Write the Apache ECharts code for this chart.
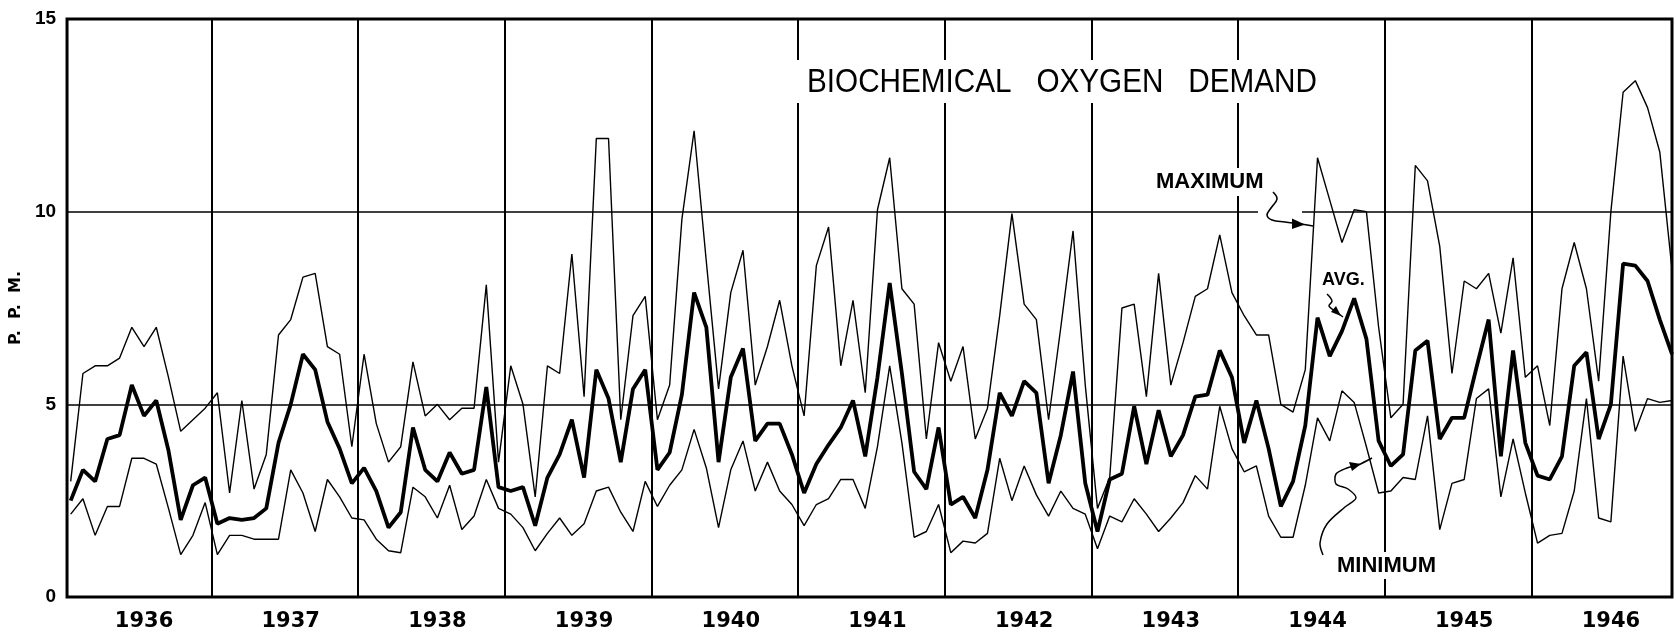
<!DOCTYPE html>
<html>
<head>
<meta charset="utf-8">
<script src="https://cdn.jsdelivr.net/npm/echarts@6/dist/echarts.min.js"></script>
<style>
  html, body { margin: 0; padding: 0; background: #fff; }
  #chart { width: 1676px; height: 635px; }
</style>
</head>
<body>
<div id="chart"></div>
<script>
// Monthly biochemical oxygen demand, p.p.m., January 1936 – December 1946
const years = [1936, 1937, 1938, 1939, 1940, 1941, 1942, 1943, 1944, 1945, 1946];
const yTicks = [0, 5, 10, 15];

const maximum = [
  3.0, 5.8, 6.0, 6.0, 6.2, 7.0, 6.5, 7.0, 5.7, 4.3, 4.6, 4.9,      // 1936
  5.3, 2.7, 5.1, 2.8, 3.7, 6.8, 7.2, 8.3, 8.4, 6.5, 6.3, 3.9,      // 1937
  6.3, 4.5, 3.5, 3.9, 6.1, 4.7, 5.0, 4.6, 4.9, 4.9, 8.1, 3.5,      // 1938
  6.0, 5.0, 2.6, 6.0, 5.8, 8.9, 5.2, 11.9, 11.9, 4.6, 7.3, 7.8,    // 1939
  4.6, 5.5, 9.8, 12.1, 8.7, 5.4, 7.9, 9.0, 5.5, 6.5, 7.7, 6.0,     // 1940
  4.7, 8.6, 9.6, 6.0, 7.7, 5.3, 10.05, 11.4, 8.0, 7.6, 4.1, 6.6,   // 1941
  5.6, 6.5, 4.1, 4.9, 7.3, 9.95, 7.6, 7.2, 4.6, 7.0, 9.5, 5.5,     // 1942
  2.3, 3.1, 7.5, 7.6, 5.2, 8.4, 5.5, 6.6, 7.8, 8.0, 9.4, 7.9,      // 1943
  7.3, 6.8, 6.8, 5.0, 4.8, 5.9, 11.4, 10.3, 9.2, 10.05, 10.0, 7.0, // 1944
  4.65, 5.0, 11.2, 10.8, 9.1, 5.8, 8.2, 8.0, 8.4, 6.85, 8.8, 5.7,  // 1945
  6.0, 4.45, 8.0, 9.2, 8.0, 5.6, 10.0, 13.1, 13.4, 12.7, 11.55, 8.5 // 1946
];

const average = [
  2.5, 3.3, 3.0, 4.1, 4.2, 5.5, 4.7, 5.1, 3.8, 2.0, 2.9, 3.1,        // 1936
  1.9, 2.05, 2.0, 2.05, 2.3, 4.0, 5.0, 6.3, 5.9, 4.55, 3.85, 2.95,   // 1937
  3.35, 2.75, 1.8, 2.2, 4.4, 3.3, 3.0, 3.75, 3.2, 3.3, 5.45, 2.85,   // 1938
  2.75, 2.85, 1.85, 3.1, 3.7, 4.6, 3.1, 5.9, 5.15, 3.5, 5.4, 5.9,    // 1939
  3.3, 3.75, 5.25, 7.9, 7.0, 3.5, 5.7, 6.45, 4.05, 4.5, 4.5, 3.7,    // 1940
  2.7, 3.45, 3.95, 4.4, 5.1, 3.65, 5.7, 8.15, 5.8, 3.25, 2.8, 4.4,   // 1941
  2.4, 2.6, 2.05, 3.3, 5.3, 4.7, 5.6, 5.3, 2.95, 4.2, 5.85, 2.95,    // 1942
  1.7, 3.05, 3.2, 4.95, 3.45, 4.85, 3.65, 4.2, 5.2, 5.25, 6.4, 5.7,  // 1943
  4.0, 5.1, 3.85, 2.35, 3.0, 4.45, 7.25, 6.25, 6.9, 7.75, 6.7, 4.05, // 1944
  3.4, 3.7, 6.4, 6.65, 4.1, 4.65, 4.65, 5.95, 7.2, 3.65, 6.4, 4.0,   // 1945
  3.15, 3.05, 3.65, 6.0, 6.35, 4.1, 5.0, 8.65, 8.6, 8.2, 7.2, 6.3    // 1946
];

const minimum = [
  2.15, 2.55, 1.6, 2.35, 2.35, 3.6, 3.6, 3.45, 2.3, 1.1, 1.6, 2.45,   // 1936
  1.1, 1.6, 1.6, 1.5, 1.5, 1.5, 3.3, 2.7, 1.7, 3.05, 2.6, 2.05,       // 1937
  2.0, 1.5, 1.2, 1.15, 2.85, 2.6, 2.05, 2.9, 1.75, 2.1, 3.05, 2.3,    // 1938
  2.15, 1.8, 1.2, 1.65, 2.05, 1.6, 1.9, 2.75, 2.85, 2.2, 1.7, 3.0,    // 1939
  2.35, 2.9, 3.3, 4.35, 3.35, 1.8, 3.3, 4.05, 2.75, 3.5, 2.75, 2.4,   // 1940
  1.85, 2.4, 2.55, 3.05, 3.05, 2.3, 3.9, 6.0, 4.0, 1.55, 1.7, 2.4,    // 1941
  1.15, 1.45, 1.4, 1.65, 3.6, 2.5, 3.4, 2.65, 2.1, 2.75, 2.3, 2.15,   // 1942
  1.25, 2.1, 1.95, 2.55, 2.15, 1.7, 2.05, 2.45, 3.15, 2.8, 4.95, 3.85, // 1943
  3.25, 3.4, 2.1, 1.55, 1.55, 2.9, 4.65, 4.05, 5.35, 5.05, 3.9, 2.7,  // 1944
  2.75, 3.1, 3.05, 4.7, 1.75, 2.95, 3.05, 5.15, 5.4, 2.6, 4.1, 2.7,   // 1945
  1.4, 1.6, 1.65, 2.75, 5.15, 2.05, 1.95, 6.25, 4.3, 5.15, 5.05, 5.1  // 1946
];

// month index -> [x, value]
const toPoints = arr => arr.map((v, i) => [i, v]);
// boundaries between years fall half a month before each January
const yearEdges = years.slice(1).map((y, k) => (k + 1) * 12 - 0.5);
// year captions sit near the middle of each twelve-month block
const yearMids = years.map((y, k) => k * 12 + 6);

const INK = '#000';

const chart = echarts.init(document.getElementById('chart'), null, { renderer: 'canvas' });

const thinLine = { color: INK, width: 1.4 };

chart.setOption({
  animation: false,
  backgroundColor: '#fff',
  grid: {
    left: 62, right: 4, top: 19, bottom: 38,
    show: true, borderColor: INK, borderWidth: 3, backgroundColor: 'transparent'
  },
  xAxis: {
    type: 'value',
    min: -0.3, max: 131,
    axisLine: { show: false },
    axisTick: { show: false },
    splitLine: { show: false },
    axisLabel: {
      customValues: yearMids,
      formatter: v => String(years[Math.round((v - 6) / 12)]),
      margin: 14,
      color: INK,
      fontFamily: 'DejaVu Sans',
      fontWeight: 'bold',
      fontSize: 21
    }
  },
  yAxis: {
    type: 'value',
    min: yTicks[0], max: yTicks[yTicks.length - 1], interval: 5,
    name: 'P.  P.  M.',
    nameLocation: 'middle',
    nameRotate: 90,
    nameGap: 40,
    nameTextStyle: { color: INK, fontFamily: 'DejaVu Sans', fontWeight: 'bold', fontSize: 16 },
    axisLine: { show: false },
    axisTick: { show: false },
    splitLine: { lineStyle: { color: INK, width: 1.5 } },
    axisLabel: {
      margin: 11,
      color: INK,
      fontFamily: 'Liberation Sans',
      fontWeight: 'bold',
      fontSize: 19
    }
  },
  series: [
    {
      name: 'Maximum',
      type: 'line',
      data: toPoints(maximum),
      symbol: 'none',
      lineStyle: thinLine,
      emphasis: { disabled: true },
      z: 3,
      markLine: {
        silent: true,
        symbol: ['none', 'none'],
        label: { show: false },
        lineStyle: { color: INK, width: 2, type: 'solid' },
        emphasis: { disabled: true },
        data: yearEdges.map(x => ({ xAxis: x }))
      }
    },
    {
      name: 'Average',
      type: 'line',
      data: toPoints(average),
      symbol: 'none',
      lineStyle: { color: INK, width: 3.8 },
      emphasis: { disabled: true },
      z: 4
    },
    {
      name: 'Minimum',
      type: 'line',
      data: toPoints(minimum),
      symbol: 'none',
      lineStyle: thinLine,
      emphasis: { disabled: true },
      z: 3
    }
  ],
  graphic: {
    elements: [
      // heading on a white panel; tall, slightly condensed lettering
      { type: 'rect', z: 10, shape: { x: 793, y: 60, width: 545, height: 43 }, style: { fill: '#fff' } },
      { type: 'text', z: 11, x: 807, y: 83, scaleX: 0.9,
        style: { text: 'BIOCHEMICAL   OXYGEN   DEMAND', font: '33px "Liberation Sans"', fill: INK, verticalAlign: 'middle' } },

      // MAXIMUM caption and its curled pointer
      { type: 'rect', z: 10, shape: { x: 1150, y: 168, width: 122, height: 28 }, style: { fill: '#fff' } },
      { type: 'rect', z: 1, shape: { x: 1258, y: 208, width: 44, height: 7 }, style: { fill: '#fff' } },
      { type: 'text', z: 11, x: 1156, y: 182,
        style: { text: 'MAXIMUM', font: 'bold 22px "Liberation Sans"', fill: INK, verticalAlign: 'middle' } },
      { type: 'polyline', z: 11,
        shape: { points: [[1273, 192], [1277, 199], [1271, 208], [1267, 215], [1272, 220], [1285, 222], [1300, 224], [1313, 226]], smooth: 0.4 },
        style: { stroke: INK, lineWidth: 1.6, fill: 'none' } },
      { type: 'polygon', z: 11, shape: { points: [[1305, 224.5], [1292, 218.5], [1292, 229]] }, style: { fill: INK } },

      // AVG. caption and pointer
      { type: 'text', z: 11, x: 1322, y: 280,
        style: { text: 'AVG.', font: 'bold 18px "Liberation Sans"', fill: INK, verticalAlign: 'middle' } },
      { type: 'polyline', z: 11,
        shape: { points: [[1327, 294], [1332, 301], [1329, 306], [1335, 311], [1343, 317]], smooth: 0.4 },
        style: { stroke: INK, lineWidth: 1.5, fill: 'none' } },
      { type: 'polygon', z: 11, shape: { points: [[1341, 316], [1331, 312], [1336, 306]] }, style: { fill: INK } },

      // MINIMUM caption and pointer
      { type: 'rect', z: 10, shape: { x: 1332, y: 552, width: 112, height: 27 }, style: { fill: '#fff' } },
      { type: 'text', z: 11, x: 1337, y: 566,
        style: { text: 'MINIMUM', font: 'bold 22px "Liberation Sans"', fill: INK, verticalAlign: 'middle' } },
      { type: 'polyline', z: 11,
        shape: { points: [[1323, 555], [1320, 543], [1327, 524], [1345, 507], [1356, 498], [1348, 489], [1336, 484], [1336, 474], [1347, 468], [1358, 465], [1372, 458]], smooth: 0.3 },
        style: { stroke: INK, lineWidth: 1.5, fill: 'none' } },
      { type: 'polygon', z: 11, shape: { points: [[1361, 464], [1349, 462], [1352, 471]] }, style: { fill: INK } }
    ]
  }
});
</script>
</body>
</html>
